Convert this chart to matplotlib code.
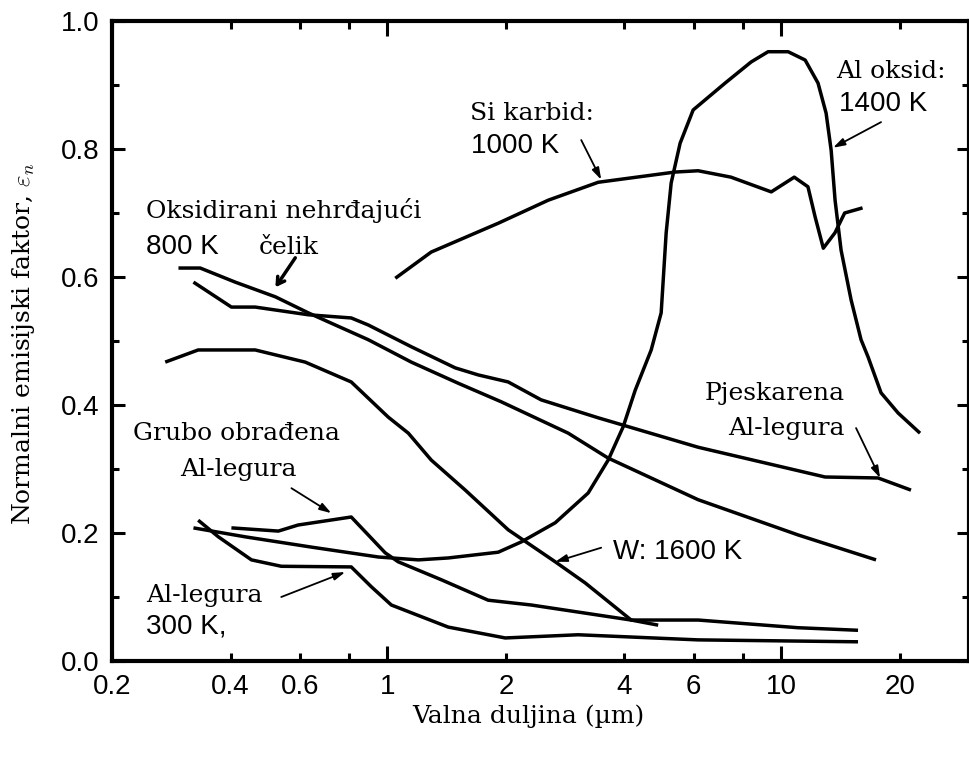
import matplotlib
matplotlib.use('Agg')
import matplotlib.pyplot as plt
from matplotlib.ticker import FixedLocator, FixedFormatter, MultipleLocator

# wavelength (um) / normal emissivity
steel_x = [0.295, 0.335, 0.411, 0.520, 0.630, 0.738, 0.895, 1.151, 1.514, 1.947, 2.880, 3.639, 6.157, 11.04, 17.42]
steel_y = [0.614, 0.614, 0.592, 0.569, 0.544, 0.525, 0.502, 0.467, 0.434, 0.405, 0.356, 0.317, 0.252, 0.197, 0.158]

sand_x = [0.322, 0.402, 0.462, 0.630, 0.810, 0.895, 1.151, 1.488, 1.702, 2.028, 2.459, 3.432, 6.157, 12.93, 17.63, 21.37]
sand_y = [0.592, 0.553, 0.553, 0.541, 0.536, 0.525, 0.491, 0.458, 0.447, 0.436, 0.408, 0.380, 0.334, 0.2875, 0.286, 0.267]

w_x = [0.273, 0.331, 0.462, 0.619, 0.810, 1.006, 1.131, 1.293, 1.578, 2.028, 2.670, 3.181, 4.162, 4.874]
w_y = [0.467, 0.486, 0.486, 0.467, 0.436, 0.381, 0.356, 0.314, 0.267, 0.205, 0.155, 0.122, 0.064, 0.056]

sic_x = [1.048, 1.293, 1.913, 2.563, 3.432, 5.38, 6.157, 7.46, 9.44, 10.8, 11.7, 12.2, 12.8, 13.7, 14.5, 16.1]
sic_y = [0.598, 0.639, 0.684, 0.720, 0.748, 0.764, 0.766, 0.756, 0.733, 0.756, 0.741, 0.694, 0.645, 0.669, 0.700, 0.708]

alox_x = [0.322, 0.436, 0.641, 0.949, 1.199, 1.428, 1.913, 2.188, 2.670, 3.237, 3.639, 3.972, 4.261, 4.679,
          4.960, 5.107, 5.259, 5.541, 5.980, 7.209, 8.393, 9.268, 10.42, 11.51, 12.41, 13.01, 13.40, 13.71,
          14.20, 15.06, 15.96, 16.63, 17.94, 19.82, 22.53]
alox_y = [0.208, 0.194, 0.178, 0.1625, 0.158, 0.161, 0.170, 0.186, 0.216, 0.2625, 0.314, 0.366, 0.423, 0.486,
          0.544, 0.669, 0.747, 0.809, 0.861, 0.903, 0.936, 0.952, 0.952, 0.939, 0.903, 0.856, 0.798, 0.720,
          0.642, 0.564, 0.502, 0.475, 0.419, 0.3875, 0.356]

rough_x = [0.402, 0.529, 0.594, 0.810, 0.988, 1.066, 1.371, 1.804, 2.320, 4.162, 6.157, 11.04, 15.68]
rough_y = [0.208, 0.203, 0.2125, 0.225, 0.169, 0.155, 0.127, 0.095, 0.0875, 0.064, 0.064, 0.052, 0.048]

al300_x = [0.331, 0.3725, 0.452, 0.538, 0.810, 0.911, 1.024, 1.428, 1.993, 3.053, 6.157, 15.68]
al300_y = [0.220, 0.194, 0.158, 0.148, 0.147, 0.116, 0.0875, 0.053, 0.036, 0.041, 0.033, 0.030]

x_minor = [0.2, 0.4, 0.6, 0.8, 2, 4, 6, 8, 20]
x_minor_labels = ['0.2', '0.4', '0.6', '', '2', '4', '6', '', '20']
x_major = [1, 10]
x_major_labels = ['1', '10']

serif = 'DejaVu Serif'
sans = 'Liberation Sans'
plt.rcParams['mathtext.fontset'] = 'cm'

fig = plt.figure(figsize=(9.7, 7.58), dpi=100)
ax = fig.add_axes([112 / 970, 97 / 758, 857 / 970, 640 / 758])

for xs, ys in [(steel_x, steel_y), (sand_x, sand_y), (w_x, w_y), (sic_x, sic_y),
               (alox_x, alox_y), (rough_x, rough_y), (al300_x, al300_y)]:
    ax.plot(xs, ys, color='black', lw=2.5, solid_joinstyle='round', solid_capstyle='butt')

ax.set_xscale('log')
ax.set_xlim(0.2, 30)
ax.set_ylim(0, 1.0)

ax.xaxis.set_major_locator(FixedLocator(x_major))
ax.xaxis.set_major_formatter(FixedFormatter(x_major_labels))
ax.xaxis.set_minor_locator(FixedLocator(x_minor))
ax.xaxis.set_minor_formatter(FixedFormatter(x_minor_labels))
ax.yaxis.set_major_locator(MultipleLocator(0.2))
ax.yaxis.set_minor_locator(MultipleLocator(0.1))
ax.yaxis.set_major_formatter(lambda v, p: f'{v:.1f}')

ax.tick_params(which='both', direction='in', top=True, right=True, width=2.2,
               labelsize=20, labelfontfamily=sans, pad=9)
ax.tick_params(axis='x', which='major', length=11)
ax.tick_params(axis='x', which='minor', length=6)
ax.tick_params(axis='y', which='major', length=9)
ax.tick_params(axis='y', which='minor', length=5)

for s in ax.spines.values():
    s.set_linewidth(3)

ax.set_xlabel('Valna duljina (µm)', fontsize=18, family=serif)
ax.xaxis.set_label_coords(0.486, -0.068)
ax.set_ylabel(r'Normalni emisijski faktor, $\varepsilon_n$', fontsize=18, family=serif)
ax.yaxis.set_label_coords(-0.088, 0.495)

t_serif = dict(fontsize=18, family=serif, va='baseline')
t_sans = dict(fontsize=20, family=sans, va='baseline')
thin = dict(arrowstyle='-|>,head_length=0.7,head_width=0.22', lw=1.3, color='black',
            shrinkA=0, shrinkB=0)

ax.text(0.2445, 0.692, 'Oksidirani nehrđajući', **t_serif)
ax.text(0.2445, 0.636, '800 K', **t_sans)
ax.text(0.4706, 0.636, 'čelik', **t_serif)
ax.annotate('', xy=(0.520, 0.584), xytext=(0.584, 0.630),
            arrowprops=dict(arrowstyle='->,head_length=0.5,head_width=0.3', lw=2.5,
                            color='black', shrinkA=0, shrinkB=0))

ax.text(1.625, 0.845, 'Si karbid:', **t_serif)
ax.text(1.634, 0.794, '1000 K', **t_sans)
ax.annotate('', xy=(3.493, 0.752), xytext=(3.108, 0.814), arrowprops=thin)

ax.text(13.79, 0.911, 'Al oksid:', **t_serif)
ax.text(14.04, 0.859, '1400 K', **t_sans)
ax.annotate('', xy=(13.55, 0.802), xytext=(17.94, 0.842), arrowprops=thin)

ax.text(14.54, 0.408, 'Pjeskarena', ha='right', **t_serif)
ax.text(14.54, 0.353, 'Al-legura', ha='right', **t_serif)
ax.annotate('', xy=(17.84, 0.286), xytext=(15.5, 0.364), arrowprops=thin)

ax.text(3.746, 0.159, 'W: 1600 K', **t_sans)
ax.annotate('', xy=(2.670, 0.155), xytext=(3.493, 0.177), arrowprops=thin)

ax.text(0.2266, 0.345, 'Grubo obrađena', **t_serif)
ax.text(0.2983, 0.289, 'Al-legura', **t_serif)
ax.annotate('', xy=(0.721, 0.231), xytext=(0.571, 0.270), arrowprops=thin)

ax.text(0.2445, 0.092, 'Al-legura', **t_serif)
ax.text(0.2433, 0.043, '300 K,', **t_sans)
ax.annotate('', xy=(0.782, 0.139), xytext=(0.538, 0.100), arrowprops=thin)

fig.savefig('out.png', dpi=100)
